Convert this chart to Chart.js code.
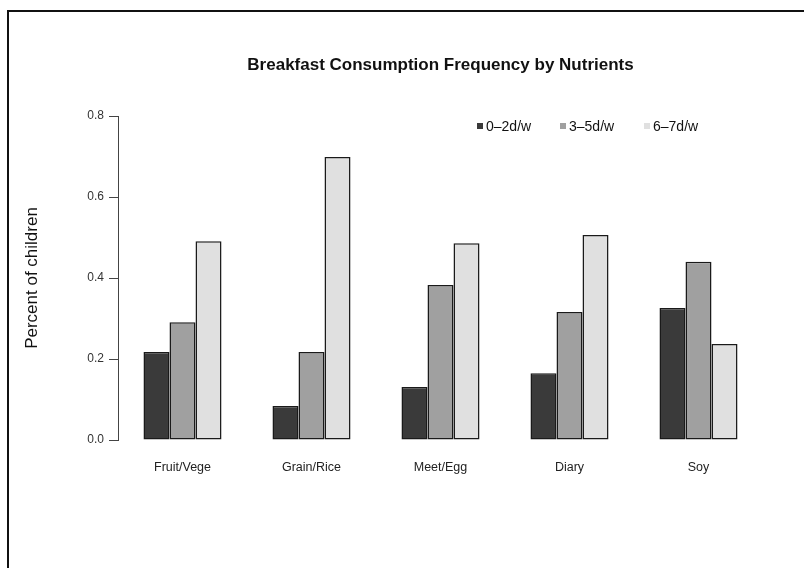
<!DOCTYPE html>
<html>
<head>
<meta charset="utf-8">
<script src="https://cdn.jsdelivr.net/npm/chart.js@4.4.1/dist/chart.umd.min.js"></script>
<style>
  body { margin: 0; background: #fff; }
  #wrap { position: relative; width: 804px; height: 568px; overflow: hidden; }
  #frame { position: absolute; left: 7px; top: 10px; width: 820px; height: 600px;
           border-left: 2px solid #111; border-top: 2px solid #111; pointer-events: none; }
  #legend { position: absolute; top: 117px; left: 0; font: 14px "Liberation Sans", Arial, sans-serif; color: #111; }
  #legend .item { position: absolute; white-space: nowrap; line-height: 18px; }
  #legend .box { display: inline-block; width: 6px; height: 6px; margin-right: 3px; vertical-align: 2px; }
</style>
</head>
<body>
<div id="wrap">
  <canvas id="chart" width="804" height="568"></canvas>
  <div id="legend"></div>
  <div id="frame"></div>
</div>
<script>
var categories = ["Fruit/Vege", "Grain/Rice", "Meet/Egg", "Diary", "Soy"];
var seriesNames = ["0\u20132d/w", "3\u20135d/w", "6\u20137d/w"];
var low = [0.217, 0.084, 0.131, 0.165, 0.326];
var mid = [0.291, 0.217, 0.383, 0.316, 0.440];
var high = [0.491, 0.699, 0.486, 0.506, 0.237];
var yTicks = [0, 0.2, 0.4, 0.6, 0.8];

var fills = ["#3a3a3a", "#a0a0a0", "#e0e0e0"];
var legendLeft = [477, 560, 644];
var font = "'Liberation Sans', Arial, sans-serif";

var seriesValues = [low, mid, high];
var datasets = seriesValues.map(function (vals, i) {
    return {
        label: seriesNames[i],
        data: vals,
        backgroundColor: fills[i],
        borderColor: "#1a1a1a",
        borderWidth: 1.5,
        borderSkipped: false,
        categoryPercentage: 0.605,
        barPercentage: 1.0
    };
});

var ctx = document.getElementById("chart").getContext("2d");
var chart = new Chart(ctx, {
    type: "bar",
    data: { labels: categories, datasets: datasets },
    options: {
        responsive: false,
        animation: false,
        layout: { padding: { left: 0, right: 41, top: 0, bottom: 0 } },
        plugins: {
            legend: { display: false },
            tooltip: { enabled: false },
            title: {
                display: true,
                fullSize: false,
                text: "Breakfast Consumption Frequency by Nutrients",
                color: "#111",
                font: { family: font, size: 17, weight: "bold", lineHeight: 1.2 },
                padding: { top: 55, bottom: 40.6 }
            }
        },
        scales: {
            x: {
                grid: { display: false },
                border: { display: false },
                ticks: { color: "#222", font: { family: font, size: 12.5 }, padding: 12, maxRotation: 0 },
                afterFit: function (scale) { scale.height = 128; }
            },
            y: {
                min: 0,
                max: 0.8,
                afterBuildTicks: function (scale) {
                    scale.ticks = yTicks.map(function (v) { return { value: v }; });
                },
                grid: { display: true, drawOnChartArea: false, drawTicks: true, tickLength: 9, color: "#444" },
                border: { display: true, color: "#444", width: 1 },
                ticks: {
                    color: "#333",
                    padding: 5,
                    font: { family: font, size: 12 },
                    callback: function (v) { return Number(v).toFixed(1); }
                },
                title: {
                    display: true,
                    text: "Percent of children",
                    color: "#111",
                    font: { family: font, size: 17 },
                    padding: { top: 22, bottom: 0 }
                },
                afterFit: function (scale) { scale.width = 118; }
            }
        }
    }
});

var legendEl = document.getElementById("legend");
seriesNames.forEach(function (name, i) {
    var item = document.createElement("div");
    item.className = "item";
    item.style.left = legendLeft[i] + "px";
    var box = document.createElement("span");
    box.className = "box";
    box.style.background = chart.data.datasets[i].backgroundColor;
    item.appendChild(box);
    item.appendChild(document.createTextNode(name));
    legendEl.appendChild(item);
});
</script>
</body>
</html>
